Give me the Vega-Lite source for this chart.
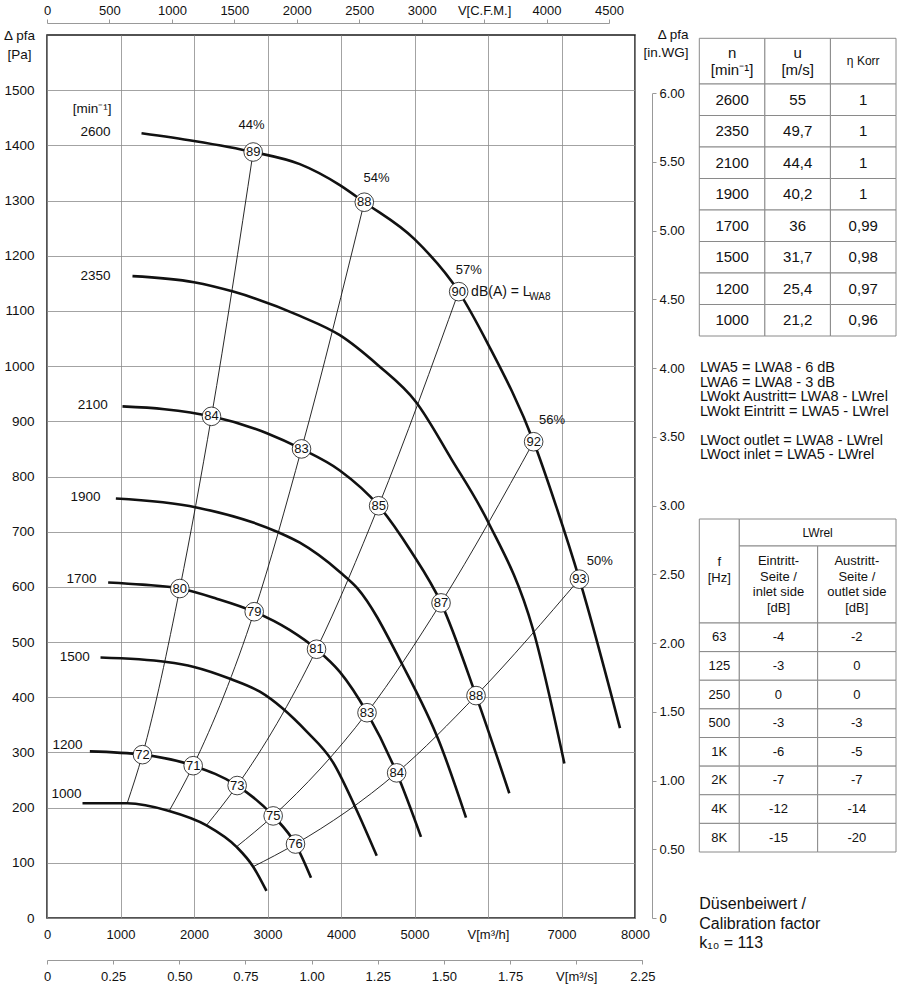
{
  "$schema": "https://vega.github.io/schema/vega-lite/v6.json",
  "background": "white",
  "padding": {"left": 3, "top": 4, "right": 3, "bottom": 4},
  "width": 588,
  "height": 883,
  "config": {
    "font": "Liberation Sans",
    "view": {"stroke": "#1a1a1a", "strokeWidth": 1.5},
    "axis": {"labelFont": "Liberation Sans", "titleFont": "Liberation Sans", "labelColor": "#111", "titleColor": "#111"},
    "text": {"font": "Liberation Sans", "color": "#111"}
  },
  "datasets": {
    "fan": [
      {"n": 2600, "V": 1286, "p": 1422}, {"n": 2600, "V": 2000, "p": 1408}, {"n": 2600, "V": 2805, "p": 1388},
      {"n": 2600, "V": 3440, "p": 1366}, {"n": 2600, "V": 3984, "p": 1328}, {"n": 2600, "V": 4317, "p": 1297},
      {"n": 2600, "V": 5000, "p": 1230}, {"n": 2600, "V": 5601, "p": 1135}, {"n": 2600, "V": 6000, "p": 1040},
      {"n": 2600, "V": 6621, "p": 863}, {"n": 2600, "V": 6930, "p": 745}, {"n": 2600, "V": 7243, "p": 614},
      {"n": 2600, "V": 7796, "p": 344},
      {"n": 2350, "V": 1163, "p": 1163}, {"n": 2350, "V": 2000, "p": 1152}, {"n": 2350, "V": 2533, "p": 1135},
      {"n": 2350, "V": 3440, "p": 1091}, {"n": 2350, "V": 3984, "p": 1056}, {"n": 2350, "V": 4500, "p": 1002},
      {"n": 2350, "V": 5020, "p": 935}, {"n": 2350, "V": 5500, "p": 832}, {"n": 2350, "V": 6000, "p": 718},
      {"n": 2350, "V": 6608, "p": 525}, {"n": 2350, "V": 7039, "p": 280},
      {"n": 2100, "V": 1027, "p": 927}, {"n": 2100, "V": 1600, "p": 922}, {"n": 2100, "V": 2238, "p": 909},
      {"n": 2100, "V": 3000, "p": 878}, {"n": 2100, "V": 3463, "p": 850}, {"n": 2100, "V": 3984, "p": 811},
      {"n": 2100, "V": 4512, "p": 747}, {"n": 2100, "V": 4950, "p": 665}, {"n": 2100, "V": 5361, "p": 571},
      {"n": 2100, "V": 5837, "p": 403}, {"n": 2100, "V": 6290, "p": 226},
      {"n": 1900, "V": 937, "p": 760}, {"n": 1900, "V": 2034, "p": 744}, {"n": 1900, "V": 3145, "p": 699},
      {"n": 1900, "V": 3440, "p": 680}, {"n": 1900, "V": 3984, "p": 627}, {"n": 1900, "V": 4227, "p": 597},
      {"n": 1900, "V": 4839, "p": 458}, {"n": 1900, "V": 5338, "p": 319}, {"n": 1900, "V": 5701, "p": 182},
      {"n": 1700, "V": 832, "p": 608}, {"n": 1700, "V": 1300, "p": 604}, {"n": 1700, "V": 1807, "p": 597},
      {"n": 1700, "V": 2300, "p": 579}, {"n": 1700, "V": 2819, "p": 555}, {"n": 1700, "V": 3300, "p": 522},
      {"n": 1700, "V": 3667, "p": 487}, {"n": 1700, "V": 3984, "p": 446}, {"n": 1700, "V": 4354, "p": 372},
      {"n": 1700, "V": 4757, "p": 263}, {"n": 1700, "V": 5088, "p": 147},
      {"n": 1500, "V": 728, "p": 472}, {"n": 1500, "V": 1626, "p": 464}, {"n": 1500, "V": 2000, "p": 455},
      {"n": 1500, "V": 2500, "p": 433}, {"n": 1500, "V": 2896, "p": 410}, {"n": 1500, "V": 3531, "p": 338},
      {"n": 1500, "V": 3887, "p": 283}, {"n": 1500, "V": 4204, "p": 198}, {"n": 1500, "V": 4485, "p": 113},
      {"n": 1200, "V": 583, "p": 302}, {"n": 1200, "V": 1299, "p": 296}, {"n": 1200, "V": 1989, "p": 276},
      {"n": 1200, "V": 2587, "p": 240}, {"n": 1200, "V": 3077, "p": 185}, {"n": 1200, "V": 3381, "p": 134},
      {"n": 1200, "V": 3592, "p": 73},
      {"n": 1000, "V": 483, "p": 208}, {"n": 1000, "V": 1091, "p": 208}, {"n": 1000, "V": 1662, "p": 194},
      {"n": 1000, "V": 2170, "p": 168}, {"n": 1000, "V": 2578, "p": 129}, {"n": 1000, "V": 2805, "p": 93},
      {"n": 1000, "V": 2986, "p": 49}
    ],
    "sys": [
      {"s": 1, "V": 1091, "p": 208}, {"s": 1, "V": 1299, "p": 296, "dB": 72}, {"s": 1, "V": 1807, "p": 597, "dB": 80},
      {"s": 1, "V": 2238, "p": 909, "dB": 84}, {"s": 1, "V": 2805, "p": 1388, "dB": 89},
      {"s": 2, "V": 1662, "p": 194}, {"s": 2, "V": 1989, "p": 276, "dB": 71}, {"s": 2, "V": 2819, "p": 555, "dB": 79},
      {"s": 2, "V": 3463, "p": 850, "dB": 83}, {"s": 2, "V": 4317, "p": 1297, "dB": 88},
      {"s": 3, "V": 2170, "p": 168}, {"s": 3, "V": 2587, "p": 240, "dB": 73}, {"s": 3, "V": 3667, "p": 487, "dB": 81},
      {"s": 3, "V": 4512, "p": 747, "dB": 85}, {"s": 3, "V": 5601, "p": 1135, "dB": 90},
      {"s": 4, "V": 2578, "p": 129}, {"s": 4, "V": 3077, "p": 185, "dB": 75}, {"s": 4, "V": 4354, "p": 372, "dB": 83},
      {"s": 4, "V": 5361, "p": 571, "dB": 87}, {"s": 4, "V": 6621, "p": 863, "dB": 92},
      {"s": 5, "V": 2805, "p": 93}, {"s": 5, "V": 3381, "p": 134, "dB": 76}, {"s": 5, "V": 4757, "p": 263, "dB": 84},
      {"s": 5, "V": 5837, "p": 403, "dB": 88}, {"s": 5, "V": 7243, "p": 614, "dB": 93}
    ],
    "speedlab": [
      {"t": "[min⁻¹]", "V": 877, "p": 1466},
      {"t": "2600", "V": 864, "p": 1425},
      {"t": "2350", "V": 864, "p": 1164},
      {"t": "2100", "V": 827, "p": 929},
      {"t": "1900", "V": 728, "p": 763},
      {"t": "1700", "V": 673, "p": 615},
      {"t": "1500", "V": 582, "p": 473},
      {"t": "1200", "V": 483, "p": 313},
      {"t": "1000", "V": 469, "p": 224}
    ],
    "pct": [
      {"t": "44%", "V": 2782, "p": 1437},
      {"t": "54%", "V": 4483, "p": 1340},
      {"t": "57%", "V": 5739, "p": 1175},
      {"t": "56%", "V": 6872, "p": 903},
      {"t": "50%", "V": 7521, "p": 647}
    ],
    "note": [
      {"t": "dB(A) = L", "V": 5770, "p": 1134, "k": "main"},
      {"t": "WA8", "V": 6562, "p": 1126, "k": "sub"}
    ],
    "hdr1": [
      {"c": "n", "r": "h", "t": "n\n[min⁻¹]"},
      {"c": "u", "r": "h", "t": "u\n[m/s]"},
      {"c": "eta", "r": "h", "t": "η Korr"}
    ],
    "tab1": [
      {"n": "2600", "u": "55", "eta": "1"},
      {"n": "2350", "u": "49,7", "eta": "1"},
      {"n": "2100", "u": "44,4", "eta": "1"},
      {"n": "1900", "u": "40,2", "eta": "1"},
      {"n": "1700", "u": "36", "eta": "0,99"},
      {"n": "1500", "u": "31,7", "eta": "0,98"},
      {"n": "1200", "u": "25,4", "eta": "0,97"},
      {"n": "1000", "u": "21,2", "eta": "0,96"}
    ],
    "formula": [
      {"i": 1, "t": "LWA5  = LWA8 - 6 dB"},
      {"i": 2, "t": "LWA6  = LWA8 - 3 dB"},
      {"i": 3, "t": "LWokt Austritt= LWA8 - LWrel"},
      {"i": 4, "t": "LWokt Eintritt = LWA5 - LWrel"},
      {"i": 5, "t": ""},
      {"i": 6, "t": "LWoct outlet  = LWA8 - LWrel"},
      {"i": 7, "t": "LWoct inlet    = LWA5 - LWrel"}
    ],
    "fhdr": [{"c": "f", "r": "h", "t": "f\n[Hz]"}],
    "lwhdr": [{"c": "l", "r": "h", "t": "LWrel"}],
    "subhdr": [
      {"c": "e", "r": "h", "t": "Eintritt-\nSeite /\ninlet side\n[dB]"},
      {"c": "a", "r": "h", "t": "Austritt-\nSeite /\noutlet side\n[dB]"}
    ],
    "tab2": [
      {"f": "63", "ein": "-4", "aus": "-2"},
      {"f": "125", "ein": "-3", "aus": "0"},
      {"f": "250", "ein": "0", "aus": "0"},
      {"f": "500", "ein": "-3", "aus": "-3"},
      {"f": "1K", "ein": "-6", "aus": "-5"},
      {"f": "2K", "ein": "-7", "aus": "-7"},
      {"f": "4K", "ein": "-12", "aus": "-14"},
      {"f": "8K", "ein": "-15", "aus": "-20"}
    ],
    "footer": [
      {"i": 1, "t": "Düsenbeiwert /"},
      {"i": 2, "t": "Calibration factor"},
      {"i": 3, "t": "k₁₀  =  113"}
    ]
  },
  "resolve": {"scale": {"x": "independent", "y": "independent"}},
  "layer": [
    {
      "data": {"name": "sys"},
      "mark": {"type": "line", "color": "#111", "strokeWidth": 0.9, "interpolate": "monotone"},
      "encoding": {
        "x": {
          "field": "V", "type": "quantitative",
          "scale": {"domain": [0, 8000], "nice": false, "zero": false},
          "axis": {
            "values": [0, 1000, 2000, 3000, 4000, 5000, 6000, 7000, 8000],
            "format": "d",
            "labelExpr": "datum.value == 6000 ? 'V[m³/h]' : datum.label",
            "grid": true, "gridColor": "#8c8c8c", "gridWidth": 0.8,
            "domain": false, "ticks": false,
            "labelPadding": 10, "labelFontSize": 13,
            "labelFlush": false, "labelOverlap": false,
            "title": null
          }
        },
        "y": {
          "field": "p", "type": "quantitative",
          "scale": {"domain": [0, 1600], "nice": false, "zero": false},
          "axis": {
            "values": [0, 100, 200, 300, 400, 500, 600, 700, 800, 900, 1000, 1100, 1200, 1300, 1400, 1500],
            "format": "d",
            "grid": true, "gridColor": "#8c8c8c", "gridWidth": 0.8,
            "domain": false, "ticks": false,
            "labelPadding": 13, "labelFontSize": 13.5,
            "labelFlush": false, "labelOverlap": false,
            "title": ["Δ pfa", "[Pa]"],
            "titleAngle": 0, "titleX": -28, "titleY": -7,
            "titleAlign": "center", "titleBaseline": "top",
            "titleFontSize": 13.5, "titleFontWeight": "normal", "titleLineHeight": 19
          }
        },
        "detail": {"field": "s", "type": "nominal"}
      }
    },
    {
      "data": {"name": "fan"},
      "mark": {"type": "line", "color": "#111", "strokeWidth": 2.6, "interpolate": "monotone"},
      "encoding": {
        "x": {"field": "V", "type": "quantitative", "scale": {"domain": [0, 8000], "nice": false, "zero": false}, "axis": null},
        "y": {"field": "p", "type": "quantitative", "scale": {"domain": [0, 1600], "nice": false, "zero": false}, "axis": null},
        "detail": {"field": "n", "type": "nominal"}
      }
    },
    {
      "data": {"name": "sys"},
      "transform": [{"filter": "isValid(datum.dB)"}],
      "mark": {"type": "point", "shape": "circle", "filled": true, "fill": "#ffffff", "stroke": "#111", "strokeWidth": 0.8, "size": 346, "opacity": 1},
      "encoding": {
        "x": {"field": "V", "type": "quantitative", "scale": {"domain": [0, 8000], "nice": false, "zero": false}, "axis": null},
        "y": {"field": "p", "type": "quantitative", "scale": {"domain": [0, 1600], "nice": false, "zero": false}, "axis": null}
      }
    },
    {
      "data": {"name": "sys"},
      "transform": [{"filter": "isValid(datum.dB)"}],
      "mark": {"type": "text", "fontSize": 13, "baseline": "middle"},
      "encoding": {
        "x": {"field": "V", "type": "quantitative", "scale": {"domain": [0, 8000], "nice": false, "zero": false}, "axis": null},
        "y": {"field": "p", "type": "quantitative", "scale": {"domain": [0, 1600], "nice": false, "zero": false}, "axis": null},
        "text": {"field": "dB", "type": "nominal"}
      }
    },
    {
      "data": {"name": "speedlab"},
      "mark": {"type": "text", "align": "right", "baseline": "middle", "fontSize": 13.5},
      "encoding": {
        "x": {"field": "V", "type": "quantitative", "scale": {"domain": [0, 8000], "nice": false, "zero": false}, "axis": null},
        "y": {"field": "p", "type": "quantitative", "scale": {"domain": [0, 1600], "nice": false, "zero": false}, "axis": null},
        "text": {"field": "t", "type": "nominal"}
      }
    },
    {
      "data": {"name": "pct"},
      "mark": {"type": "text", "baseline": "middle", "fontSize": 13},
      "encoding": {
        "x": {"field": "V", "type": "quantitative", "scale": {"domain": [0, 8000], "nice": false, "zero": false}, "axis": null},
        "y": {"field": "p", "type": "quantitative", "scale": {"domain": [0, 1600], "nice": false, "zero": false}, "axis": null},
        "text": {"field": "t", "type": "nominal"}
      }
    },
    {
      "data": {"name": "note"},
      "transform": [{"filter": "datum.k == 'main'"}],
      "mark": {"type": "text", "align": "left", "baseline": "middle", "fontSize": 14},
      "encoding": {
        "x": {"field": "V", "type": "quantitative", "scale": {"domain": [0, 8000], "nice": false, "zero": false}, "axis": null},
        "y": {"field": "p", "type": "quantitative", "scale": {"domain": [0, 1600], "nice": false, "zero": false}, "axis": null},
        "text": {"field": "t", "type": "nominal"}
      }
    },
    {
      "data": {"name": "note"},
      "transform": [{"filter": "datum.k == 'sub'"}],
      "mark": {"type": "text", "align": "left", "baseline": "middle", "fontSize": 10},
      "encoding": {
        "x": {"field": "V", "type": "quantitative", "scale": {"domain": [0, 8000], "nice": false, "zero": false}, "axis": null},
        "y": {"field": "p", "type": "quantitative", "scale": {"domain": [0, 1600], "nice": false, "zero": false}, "axis": null},
        "text": {"field": "t", "type": "nominal"}
      }
    },
    {
      "data": {"values": [{"cfm": 0}, {"cfm": 4500}]},
      "mark": {"type": "point", "opacity": 0},
      "encoding": {
        "x": {
          "field": "cfm", "type": "quantitative",
          "scale": {"domain": [0, 4500], "range": [0, 562], "nice": false, "zero": false},
          "axis": {
            "orient": "top", "offset": 12,
            "values": [0, 500, 1000, 1500, 2000, 2500, 3000, 3500, 4000, 4500],
            "format": "d",
            "labelExpr": "datum.value == 3500 ? 'V[C.F.M.]' : datum.label",
            "tickSize": 4, "tickColor": "#999", "domainColor": "#999",
            "labelPadding": 2, "labelFontSize": 13,
            "labelFlush": false, "labelOverlap": false,
            "grid": false, "title": null
          }
        }
      }
    },
    {
      "data": {"values": [{"q": 0}, {"q": 2.25}]},
      "mark": {"type": "point", "opacity": 0},
      "encoding": {
        "x": {
          "field": "q", "type": "quantitative",
          "scale": {"domain": [0, 2.25], "range": [0, 595.35], "nice": false, "zero": false},
          "axis": {
            "orient": "bottom", "offset": 42,
            "values": [0, 0.25, 0.5, 0.75, 1, 1.25, 1.5, 1.75, 2, 2.25],
            "labelExpr": "datum.value == 2 ? 'V[m³/s]' : (datum.value == 0 ? '0' : format(datum.value, '.2f'))",
            "tickSize": 4, "tickColor": "#999", "domainColor": "#999",
            "labelPadding": 6, "labelFontSize": 13,
            "labelFlush": false, "labelOverlap": false,
            "grid": false, "title": null
          }
        }
      }
    },
    {
      "data": {"values": [{"w": 0}, {"w": 6}]},
      "mark": {"type": "point", "opacity": 0},
      "encoding": {
        "y": {
          "field": "w", "type": "quantitative",
          "scale": {"domain": [0, 6], "range": [883, 58.2], "nice": false, "zero": false},
          "axis": {
            "orient": "right", "offset": 17,
            "values": [0, 0.5, 1, 1.5, 2, 2.5, 3, 3.5, 4, 4.5, 5, 5.5, 6],
            "labelExpr": "datum.value == 0 ? '0' : format(datum.value, '.2f')",
            "tickSize": 4, "tickColor": "#999", "domainColor": "#999",
            "labelPadding": 3, "labelFontSize": 13,
            "labelFlush": false, "labelOverlap": false,
            "grid": false,
            "title": ["Δ pfa", "[in.WG]"],
            "titleAngle": 0, "titleX": 36, "titleY": -8,
            "titleAlign": "right", "titleBaseline": "top",
            "titleFontSize": 13.5, "titleFontWeight": "normal", "titleLineHeight": 18
          }
        }
      }
    },
    {
      "data": {"name": "hdr1"},
      "mark": {"type": "rect", "fill": "#ffffff", "stroke": "#8a8a8a", "strokeWidth": 1},
      "encoding": {
        "x": {"field": "c", "type": "nominal", "sort": ["n", "u", "eta"], "axis": null, "scale": {"range": [652.3, 849], "paddingInner": 0, "paddingOuter": 0}},
        "y": {"field": "r", "type": "nominal", "axis": null, "scale": {"range": [3.3, 49], "paddingInner": 0, "paddingOuter": 0}}
      }
    },
    {
      "data": {"name": "hdr1"},
      "transform": [{"filter": "datum.c != 'eta'"}],
      "mark": {"type": "text", "fontSize": 15, "lineBreak": "\n", "lineHeight": 17, "baseline": "middle", "dy": -8.5},
      "encoding": {
        "x": {"field": "c", "type": "nominal", "sort": ["n", "u", "eta"], "axis": null, "scale": {"domain": ["n", "u", "eta"], "range": [652.3, 849], "paddingInner": 0, "paddingOuter": 0}},
        "y": {"field": "r", "type": "nominal", "axis": null, "scale": {"range": [3.3, 49], "paddingInner": 0, "paddingOuter": 0}},
        "text": {"field": "t", "type": "nominal"}
      }
    },
    {
      "data": {"name": "hdr1"},
      "transform": [{"filter": "datum.c == 'eta'"}],
      "mark": {"type": "text", "fontSize": 12, "baseline": "middle"},
      "encoding": {
        "x": {"field": "c", "type": "nominal", "sort": ["n", "u", "eta"], "axis": null, "scale": {"domain": ["n", "u", "eta"], "range": [652.3, 849], "paddingInner": 0, "paddingOuter": 0}},
        "y": {"field": "r", "type": "nominal", "axis": null, "scale": {"range": [3.3, 49], "paddingInner": 0, "paddingOuter": 0}},
        "text": {"field": "t", "type": "nominal"}
      }
    },
    {
      "data": {"name": "tab1"},
      "transform": [{"fold": ["n", "u", "eta"], "as": ["c", "v"]}],
      "mark": {"type": "rect", "fill": "#ffffff", "stroke": "#8a8a8a", "strokeWidth": 1},
      "encoding": {
        "x": {"field": "c", "type": "nominal", "sort": ["n", "u", "eta"], "axis": null, "scale": {"range": [652.3, 849], "paddingInner": 0, "paddingOuter": 0}},
        "y": {"field": "n", "type": "nominal", "sort": null, "axis": null, "scale": {"range": [49, 301], "paddingInner": 0, "paddingOuter": 0}}
      }
    },
    {
      "data": {"name": "tab1"},
      "transform": [{"fold": ["n", "u", "eta"], "as": ["c", "v"]}],
      "mark": {"type": "text", "fontSize": 15, "baseline": "middle"},
      "encoding": {
        "x": {"field": "c", "type": "nominal", "sort": ["n", "u", "eta"], "axis": null, "scale": {"range": [652.3, 849], "paddingInner": 0, "paddingOuter": 0}},
        "y": {"field": "n", "type": "nominal", "sort": null, "axis": null, "scale": {"range": [49, 301], "paddingInner": 0, "paddingOuter": 0}},
        "text": {"field": "v", "type": "nominal"}
      }
    },
    {
      "data": {"name": "formula"},
      "mark": {"type": "text", "align": "left", "baseline": "middle", "fontSize": 14.5},
      "encoding": {
        "x": {"datum": 0, "type": "quantitative", "axis": null, "scale": {"domain": [0, 1], "range": [653, 849]}},
        "y": {"field": "i", "type": "ordinal", "axis": null, "scale": {"type": "point", "padding": 0, "range": [333, 420]}},
        "text": {"field": "t", "type": "nominal"}
      }
    },
    {
      "data": {"name": "fhdr"},
      "mark": {"type": "rect", "fill": "#ffffff", "stroke": "#8a8a8a", "strokeWidth": 1},
      "encoding": {
        "x": {"field": "c", "type": "nominal", "axis": null, "scale": {"range": [652.3, 692.3], "paddingInner": 0, "paddingOuter": 0}},
        "y": {"field": "r", "type": "nominal", "axis": null, "scale": {"range": [484, 588], "paddingInner": 0, "paddingOuter": 0}}
      }
    },
    {
      "data": {"name": "fhdr"},
      "mark": {"type": "text", "fontSize": 13, "lineBreak": "\n", "lineHeight": 15.5, "baseline": "middle", "dy": -9},
      "encoding": {
        "x": {"field": "c", "type": "nominal", "axis": null, "scale": {"range": [652.3, 692.3], "paddingInner": 0, "paddingOuter": 0}},
        "y": {"field": "r", "type": "nominal", "axis": null, "scale": {"range": [484, 588], "paddingInner": 0, "paddingOuter": 0}},
        "text": {"field": "t", "type": "nominal"}
      }
    },
    {
      "data": {"name": "lwhdr"},
      "mark": {"type": "rect", "fill": "#ffffff", "stroke": "#8a8a8a", "strokeWidth": 1},
      "encoding": {
        "x": {"field": "c", "type": "nominal", "axis": null, "scale": {"range": [692.3, 849], "paddingInner": 0, "paddingOuter": 0}},
        "y": {"field": "r", "type": "nominal", "axis": null, "scale": {"range": [484, 511], "paddingInner": 0, "paddingOuter": 0}}
      }
    },
    {
      "data": {"name": "lwhdr"},
      "mark": {"type": "text", "fontSize": 12, "baseline": "middle"},
      "encoding": {
        "x": {"field": "c", "type": "nominal", "axis": null, "scale": {"range": [692.3, 849], "paddingInner": 0, "paddingOuter": 0}},
        "y": {"field": "r", "type": "nominal", "axis": null, "scale": {"range": [484, 511], "paddingInner": 0, "paddingOuter": 0}},
        "text": {"field": "t", "type": "nominal"}
      }
    },
    {
      "data": {"name": "subhdr"},
      "mark": {"type": "rect", "fill": "#ffffff", "stroke": "#8a8a8a", "strokeWidth": 1},
      "encoding": {
        "x": {"field": "c", "type": "nominal", "sort": ["e", "a"], "axis": null, "scale": {"range": [692.3, 849], "paddingInner": 0, "paddingOuter": 0}},
        "y": {"field": "r", "type": "nominal", "axis": null, "scale": {"range": [511, 588], "paddingInner": 0, "paddingOuter": 0}}
      }
    },
    {
      "data": {"name": "subhdr"},
      "mark": {"type": "text", "fontSize": 13, "lineBreak": "\n", "lineHeight": 15.7, "baseline": "middle", "dy": -23.5},
      "encoding": {
        "x": {"field": "c", "type": "nominal", "sort": ["e", "a"], "axis": null, "scale": {"range": [692.3, 849], "paddingInner": 0, "paddingOuter": 0}},
        "y": {"field": "r", "type": "nominal", "axis": null, "scale": {"range": [511, 588], "paddingInner": 0, "paddingOuter": 0}},
        "text": {"field": "t", "type": "nominal"}
      }
    },
    {
      "data": {"name": "tab2"},
      "transform": [{"fold": ["f"], "as": ["c", "v"]}],
      "mark": {"type": "rect", "fill": "#ffffff", "stroke": "#8a8a8a", "strokeWidth": 1},
      "encoding": {
        "x": {"field": "c", "type": "nominal", "axis": null, "scale": {"range": [652.3, 692.3], "paddingInner": 0, "paddingOuter": 0}},
        "y": {"field": "f", "type": "nominal", "sort": null, "axis": null, "scale": {"range": [588, 817], "paddingInner": 0, "paddingOuter": 0}}
      }
    },
    {
      "data": {"name": "tab2"},
      "transform": [{"fold": ["f"], "as": ["c", "v"]}],
      "mark": {"type": "text", "fontSize": 13, "baseline": "middle"},
      "encoding": {
        "x": {"field": "c", "type": "nominal", "axis": null, "scale": {"range": [652.3, 692.3], "paddingInner": 0, "paddingOuter": 0}},
        "y": {"field": "f", "type": "nominal", "sort": null, "axis": null, "scale": {"range": [588, 817], "paddingInner": 0, "paddingOuter": 0}},
        "text": {"field": "v", "type": "nominal"}
      }
    },
    {
      "data": {"name": "tab2"},
      "transform": [{"fold": ["ein", "aus"], "as": ["c", "v"]}],
      "mark": {"type": "rect", "fill": "#ffffff", "stroke": "#8a8a8a", "strokeWidth": 1},
      "encoding": {
        "x": {"field": "c", "type": "nominal", "sort": ["ein", "aus"], "axis": null, "scale": {"range": [692.3, 849], "paddingInner": 0, "paddingOuter": 0}},
        "y": {"field": "f", "type": "nominal", "sort": null, "axis": null, "scale": {"range": [588, 817], "paddingInner": 0, "paddingOuter": 0}}
      }
    },
    {
      "data": {"name": "tab2"},
      "transform": [{"fold": ["ein", "aus"], "as": ["c", "v"]}],
      "mark": {"type": "text", "fontSize": 13, "baseline": "middle"},
      "encoding": {
        "x": {"field": "c", "type": "nominal", "sort": ["ein", "aus"], "axis": null, "scale": {"range": [692.3, 849], "paddingInner": 0, "paddingOuter": 0}},
        "y": {"field": "f", "type": "nominal", "sort": null, "axis": null, "scale": {"range": [588, 817], "paddingInner": 0, "paddingOuter": 0}},
        "text": {"field": "v", "type": "nominal"}
      }
    },
    {
      "data": {"name": "footer"},
      "mark": {"type": "text", "align": "left", "baseline": "middle", "fontSize": 16},
      "encoding": {
        "x": {"datum": 0, "type": "quantitative", "axis": null, "scale": {"domain": [0, 1], "range": [652.3, 849]}},
        "y": {"field": "i", "type": "ordinal", "axis": null, "scale": {"type": "point", "padding": 0, "range": [869, 908]}},
        "text": {"field": "t", "type": "nominal"}
      }
    }
  ]
}
